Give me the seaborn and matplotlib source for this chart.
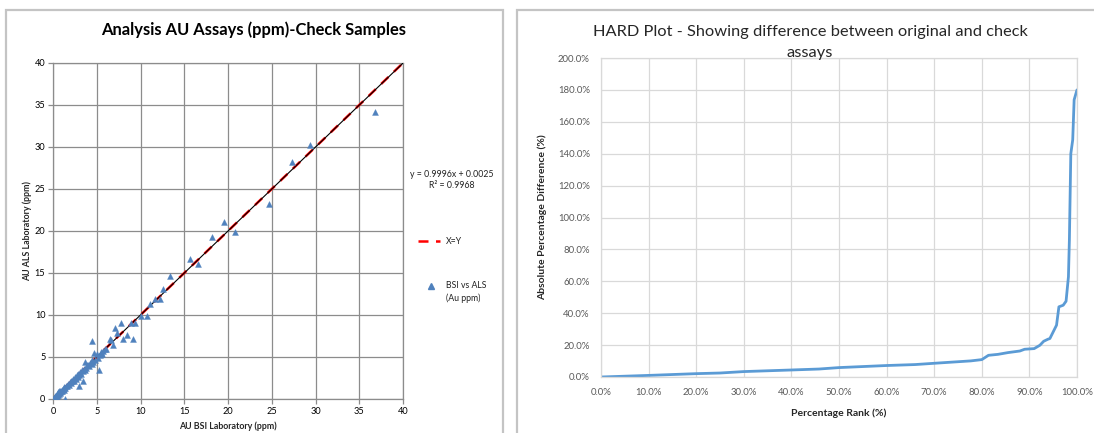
import matplotlib
matplotlib.use("Agg")
import matplotlib.pyplot as plt
from matplotlib.patches import Rectangle
from matplotlib.lines import Line2D
from matplotlib.ticker import PercentFormatter, MultipleLocator
import seaborn as sns
import pandas as pd
import numpy as np

# ---- check-sample assays (ppm) ----
bsi_au = [0.05, 0.1, 0.15, 0.2, 0.25, 0.3, 0.35, 0.4, 0.45, 0.5, 0.55, 0.6, 0.7, 0.7, 0.75,
          0.8, 0.85, 0.9, 1.0, 1.0, 1.1, 1.2, 1.25, 1.3, 1.4, 1.4, 1.5, 1.6, 1.7, 1.8,
          1.9, 2.0, 2.1, 2.2, 2.3, 2.4, 2.5, 2.6, 2.7, 2.8, 2.9, 3.0, 3.0, 3.1, 3.2,
          3.3, 3.4, 3.4, 3.5, 3.6, 3.7, 3.8, 3.9, 4.0, 4.1, 4.2, 4.4, 4.4, 4.5, 4.6,
          4.7, 4.8, 5.0, 5.1, 5.3, 5.4, 5.5, 5.6, 5.75, 5.9, 6.1, 6.5, 6.6, 6.9, 7.1,
          7.3, 7.8, 8.0, 8.4, 8.9, 9.1, 9.4, 10.1, 10.7, 11.1, 11.6, 12.2, 12.6, 13.4,
          15.6, 16.6, 18.2, 19.5, 20.8, 24.7, 27.3, 29.4, 36.8]
als_au = [0.0, 0.15, 0.1, 0.3, 0.2, 0.4, 0.3, 0.5, 0.4, 0.6, 0.5, 0.8, 0.6, 0.9, 0.7,
          1.0, 0.8, 0.9, 1.1, 0.9, 1.2, 1.1, 1.3, 1.4, 1.3, 0.05, 1.6, 1.5, 1.8, 1.7,
          2.0, 1.9, 2.2, 2.1, 2.4, 2.2, 2.6, 2.4, 2.8, 2.6, 3.0, 1.5, 2.8, 3.2, 3.0,
          3.4, 2.1, 3.3, 3.6, 3.4, 4.4, 3.7, 4.1, 4.0, 3.9, 4.3, 6.9, 4.2, 4.6, 4.4,
          5.5, 4.6, 5.3, 4.9, 3.4, 5.2, 5.6, 5.3, 5.7, 5.9, 6.0, 7.1, 7.0, 6.4, 8.4,
          7.8, 9.0, 7.2, 7.6, 9.0, 7.1, 9.0, 9.9, 9.9, 11.3, 11.9, 11.9, 13.1, 14.7,
          16.7, 16.1, 19.3, 21.1, 19.9, 23.2, 28.2, 30.2, 34.2]

# ---- HARD plot: ranked absolute percentage differences ----
rank_pct = [0, 10, 20, 25, 30, 40, 45.8, 50, 60, 66, 70, 77.7, 80, 81.4, 83.4, 85.5,
            88, 89, 91, 92.2, 93, 93.9, 94.3, 95, 95.7, 96.2, 97.1, 97.7, 98.2, 98.4,
            98.7, 99.1, 99.4, 100]
abs_diff_pct = [0, 1.0, 2.1, 2.5, 3.4, 4.4, 5.0, 5.9, 7.2, 7.8, 8.6, 10.1, 10.9, 13.6,
                14.2, 15.3, 16.3, 17.4, 17.8, 19.9, 22.4, 23.7, 24.1, 28.3, 32.5, 44.0,
                45.0, 47.5, 62.8, 85.9, 140.0, 148.7, 173.8, 180.0]

slope, intercept, r2 = 0.9996, 0.0025, 0.9968

sns.set_theme(style="white")
plt.rcParams["font.family"] = ["Lato", "DejaVu Sans"]

W, H = 1094, 433
fig = plt.figure(figsize=(W / 100, H / 100), dpi=100)
fig.patch.set_facecolor("white")


def fx(px):
    return px / W


def fy(py):
    return 1 - py / H


# panel frames
for x0, x1 in [(6, 503), (517, 1110)]:
    fig.add_artist(Rectangle((fx(x0), fy(445)), fx(x1 - x0), (445 - 10) / H,
                             transform=fig.transFigure, fill=False,
                             edgecolor="#c4c4c4", linewidth=1.6, zorder=0))

# ---------------- left: scatter of check assays ----------------
ax1 = fig.add_axes([fx(53), fy(399), fx(403 - 53), (399 - 63) / H])
scatter_df = pd.DataFrame({"BSI": bsi_au, "ALS": als_au})
line_x = np.array([0, 40])
xy_df = pd.DataFrame({"x": line_x, "y": line_x})
fit_df = pd.DataFrame({"x": line_x, "y": slope * line_x + intercept})

sns.lineplot(data=xy_df, x="x", y="y", ax=ax1, color="#ff0000", linewidth=1.8,
             linestyle=(0, (4, 3)), zorder=2)
sns.lineplot(data=fit_df, x="x", y="y", ax=ax1, color="black", linewidth=0.8, zorder=3)
sns.scatterplot(data=scatter_df, x="BSI", y="ALS", ax=ax1, marker="^", s=18,
                color="#4f81bd", edgecolor="#4f81bd", linewidth=0.3, zorder=4)

ax1.set_xlim(0, 40)
ax1.set_ylim(0, 40)
ax1.xaxis.set_major_locator(MultipleLocator(5))
ax1.yaxis.set_major_locator(MultipleLocator(5))
ax1.grid(True, color="#8c8c8c", linewidth=0.9)
for s in ax1.spines.values():
    s.set_color("#8c8c8c")
    s.set_linewidth(0.9)
ax1.tick_params(axis="both", labelsize=6.6, colors="#8c8c8c", labelcolor="black",
                length=3.5, width=0.9, direction="out", pad=2)
ax1.tick_params(bottom=True, left=True)
ax1.set_xlabel("AU BSI Laboratory (ppm)", fontsize=6.4, fontweight="bold", labelpad=4)
ax1.set_ylabel("AU ALS Laboratory (ppm)", fontsize=6.4, fontweight="bold", labelpad=2)

fig.text(fx(254), fy(30), "Analysis AU Assays (ppm)-Check Samples", ha="center",
         va="center", fontsize=11.9, fontweight="bold", color="black")

# legend / trendline label
fig.text(fx(452), fy(180), "y = 0.9996x + 0.0025\nR² = 0.9968", ha="center", va="center",
         fontsize=6.3, linespacing=1.35, color="#222222")
fig.add_artist(Line2D([fx(418), fx(440)], [fy(241), fy(241)], transform=fig.transFigure,
                      color="#ff0000", linewidth=1.8, linestyle=(0, (4, 3))))
fig.text(fx(446), fy(241), "X=Y", ha="left", va="center", fontsize=6.3, color="#222222")
fig.add_artist(Line2D([fx(431)], [fy(286)], transform=fig.transFigure, marker="^",
                      markersize=4, color="#4f81bd", linestyle="none"))
fig.text(fx(446), fy(292), "BSI vs ALS\n(Au ppm)", ha="left", va="center", fontsize=6.3,
         linespacing=1.4, color="#222222")

# ---------------- right: HARD plot ----------------
ax2 = fig.add_axes([fx(601), fy(377), fx(1077 - 601), (377 - 58) / H])
hard_df = pd.DataFrame({"rank": rank_pct, "diff": abs_diff_pct})
sns.lineplot(data=hard_df, x="rank", y="diff", ax=ax2, color="#5b9bd5", linewidth=2.0)
ax2.set_xlim(0, 100)
ax2.set_ylim(0, 200)
ax2.xaxis.set_major_locator(MultipleLocator(10))
ax2.yaxis.set_major_locator(MultipleLocator(20))
ax2.xaxis.set_major_formatter(PercentFormatter(xmax=100, decimals=1))
ax2.yaxis.set_major_formatter(PercentFormatter(xmax=100, decimals=1))
ax2.grid(True, color="#d9d9d9", linewidth=0.9)
for s in ax2.spines.values():
    s.set_color("#d9d9d9")
    s.set_linewidth(0.9)
ax2.tick_params(axis="both", labelsize=6.9, labelcolor="#595959", length=0, pad=8)
ax2.set_xlabel("Percentage Rank (%)", fontsize=7.5, fontweight="bold", labelpad=8)
ax2.set_ylabel("Absolute Percentage Difference (%)", fontsize=7.5, fontweight="bold",
               labelpad=8)
fig.text(fx(810), fy(32), "HARD Plot - Showing difference between original and check",
         ha="center", va="center", fontsize=11.8, color="#262626")
fig.text(fx(810), fy(53), "assays", ha="center", va="center", fontsize=11.8,
         color="#262626")

fig.savefig("out.png", dpi=100, facecolor="white")
